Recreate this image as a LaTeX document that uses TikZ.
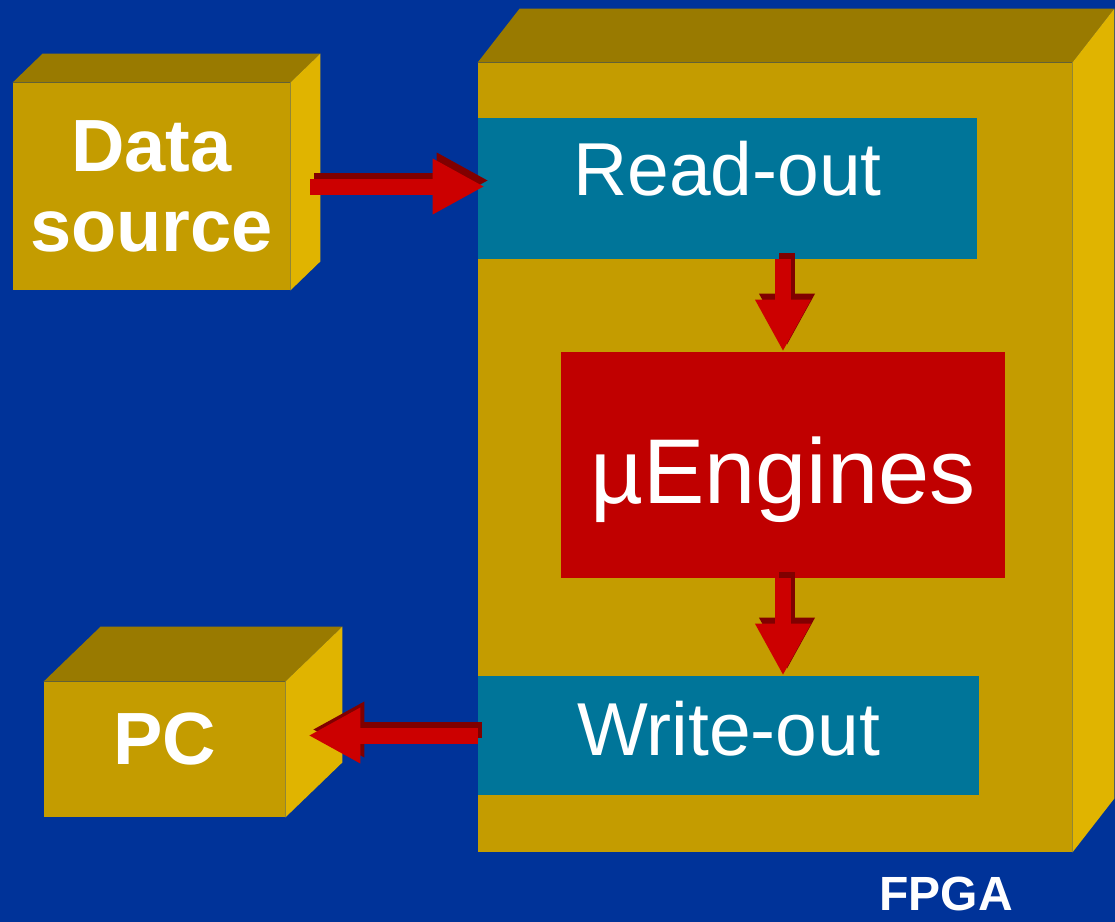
\documentclass[tikz,border=0pt]{standalone}
\usepackage{fontspec}
\setmainfont{Liberation Sans}
\usetikzlibrary{arrows.meta,calc}
\definecolor{bgblue}{RGB}{0,51,153}
\definecolor{goldfront}{RGB}{196,156,0}
\definecolor{goldtop}{RGB}{153,122,0}
\definecolor{goldside}{RGB}{224,180,0}
\definecolor{tealbox}{RGB}{0,117,153}
\definecolor{engred}{RGB}{192,0,0}
\definecolor{arrowred}{RGB}{204,0,0}
\definecolor{arrowdark}{RGB}{128,0,0}
\begin{document}
\begin{tikzpicture}[x=0.5pt, y=-0.5pt,
    crate/.style={fill=goldfront, inner sep=0pt, text=white,
        font=\bfseries\fontsize{37}{40}\selectfont},
    unit/.style={fill=tealbox, inner sep=0pt, text=white,
        font=\fontsize{37.5}{40}\selectfont},
    flow/.style={line width=8pt, draw=arrowred,
        -{Triangle[length=26pt, width=26pt]}},
    flowshade/.style={flow, draw=arrowdark,
        transform canvas={shift={(2pt,3pt)}}}]
  \fill[bgblue] (0,0) rectangle (1115,922);
  \useasboundingbox (0,0) rectangle (1115,922);

  \node[crate, minimum width=138.5pt, minimum height=103.5pt, align=center] (data) at (151.5,186.5) {Data\\source};
  \node[crate, minimum width=297pt, minimum height=394.5pt] (fpga) at (775,457.5) {};
  \node[crate, minimum width=120.5pt, minimum height=67.5pt,
        text height=27pt, text depth=12.5pt] (pc) at (164.5,749.5) {PC};

\foreach \n/\dx/\dy in {data/30/-29, fpga/42/-54, pc/57/-55}
{
    \fill[goldtop] (\n.north west) -- ++(\dx,\dy) -- ([shift={(\dx,\dy)}]\n.north east) -- (\n.north east) -- cycle;
    \fill[goldside] (\n.north east) -- ++(\dx,\dy) -- ([shift={(\dx,\dy)}]\n.south east) -- (\n.south east) -- cycle;
}

  \node[unit, minimum width=249.5pt, minimum height=70.5pt,
        text height=26pt, text depth=19.5pt] (read) at (727.5,188.5) {Read-out};
  \node[unit, fill=engred, font=\fontsize{46}{48}\selectfont, minimum width=222pt, minimum height=113pt,
        text height=40pt, text depth=2pt] (eng) at (783,465) {µEngines};
  \node[unit, minimum width=250.5pt, minimum height=59.5pt,
        text height=26pt, text depth=6.5pt] (write) at (728.5,735.5) {Write-out};

  \node[text=white, anchor=base, inner sep=0pt, font=\bfseries\fontsize{24}{26}\selectfont] (fpgatext) at (946,910) {FPGA};

  \draw[flowshade] ($(data.east)+(20,0)$) -- ($(read.west |- data.east)+(7,0)$);
  \draw[flow] ($(data.east)+(20,0)$) -- ($(read.west |- data.east)+(7,0)$);

  \draw[flowshade] (read.south -| eng.north) -- (eng.north);
  \draw[flow] (read.south -| eng.north) -- (eng.north);

  \draw[flowshade] (eng.south) -- (write.north -| eng.south);
  \draw[flow] (eng.south) -- (write.north -| eng.south);

  \draw[flowshade] (write.west) -- ($(write.west -| pc.east)+(23,0)$);
  \draw[flow] (write.west) -- ($(write.west -| pc.east)+(23,0)$);
\end{tikzpicture}
\end{document}
